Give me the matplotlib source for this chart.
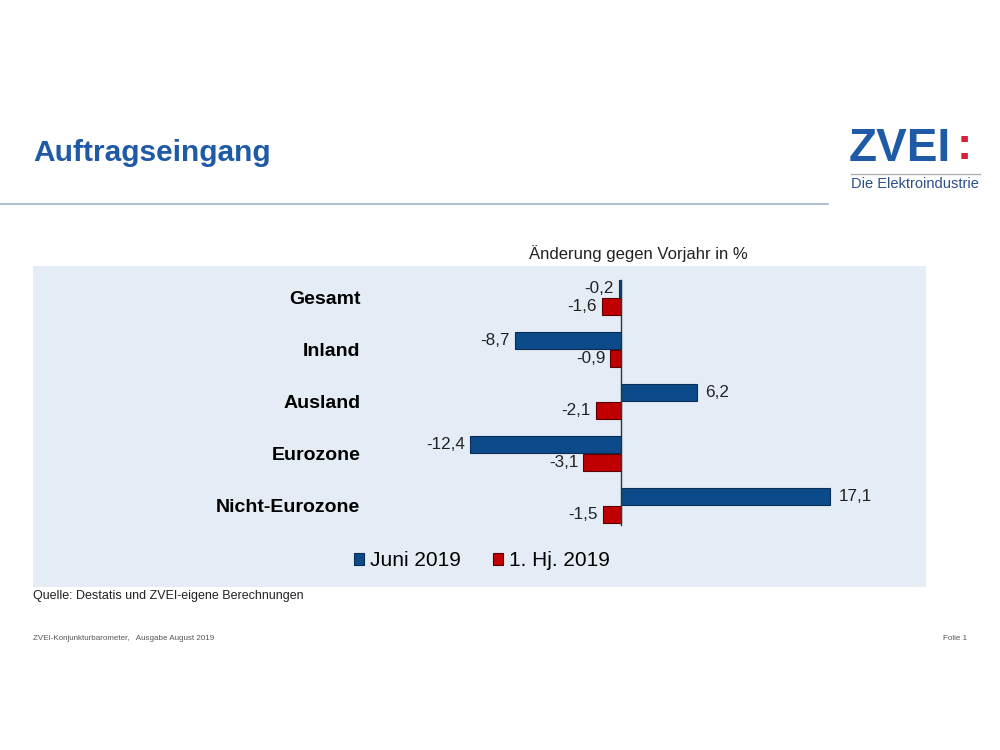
import numpy as np
import matplotlib.pyplot as plt
from matplotlib.patches import Rectangle

plt.rcParams['font.family'] = ['Liberation Sans', 'DejaVu Sans']

categories = ["Gesamt", "Inland", "Ausland", "Eurozone", "Nicht-Eurozone"]
juni = [-0.2, -8.7, 6.2, -12.4, 17.1]
halbjahr = [-1.6, -0.9, -2.1, -3.1, -1.5]
series_names = ["Juni 2019", "1. Hj. 2019"]

blue = "#0d4a8a"
red = "#c00000"
title_blue = "#1f5aa6"

W, H = 1000, 750
fig = plt.figure(figsize=(10, 7.5), dpi=100)

def fx(px):
    return px / W

def fy(py):
    return 1 - py / H

# panel background
fig.patches.append(Rectangle((fx(33), fy(587)), fx(926) - fx(33), fy(266) - fy(587),
                             transform=fig.transFigure, facecolor="#e4edf6",
                             edgecolor="none", zorder=-5))

# title + rule
fig.text(fx(33), fy(153), "Auftragseingang", fontsize=21.5, fontweight="bold",
         color=title_blue, va="center", ha="left")
fig.add_artist(plt.Line2D([0, fx(828)], [fy(204), fy(204)], transform=fig.transFigure,
                          color="#9fb3cb", lw=1.2))

# logo
fig.text(fx(849), fy(149), "ZVEI", fontsize=33, fontweight="bold", color=title_blue,
         va="center", ha="left")
fig.text(fx(957), fy(147), ":", fontsize=33, fontweight="bold", color="#d8203a",
         va="center", ha="left")
fig.add_artist(plt.Line2D([fx(851), fx(980)], [fy(174), fy(174)], transform=fig.transFigure,
                          color="#b0b0b0", lw=1))
fig.text(fx(851), fy(184), "Die Elektroindustrie", fontsize=10.5, color="#2a4f86",
         va="center", ha="left")

# chart axes
ax = fig.add_axes([fx(377), 1 - 536.7 / H, fx(902) - fx(377), 270.4 / H])
ax.set_facecolor("none")
ax.set_zorder(2)
y = np.arange(len(categories))
h = 0.34
off = 0.175
ax.barh(y - off, juni, height=h, color=blue, edgecolor="#0a2e55", lw=0.8, label=series_names[0])
ax.barh(y + off, halbjahr, height=h, color=red, edgecolor="#5a0000", lw=0.8, label=series_names[1])

def fmt(v):
    return ("%.1f" % v).replace(".", ",")

for yy, vals in ((y - off, juni), (y + off, halbjahr)):
    for yi, v in zip(yy, vals):
        if v < 0:
            ax.text(v - 0.4, yi, fmt(v), ha="right", va="center", fontsize=12.3, color="#222222")
        else:
            ax.text(v + 0.7, yi, fmt(v), ha="left", va="center", fontsize=12.3, color="#222222")

ax.set_xlim(-20, 23)
ax.set_ylim(4.6, -0.6)
ax.axvline(0, ymin=0.044, ymax=0.95, color="#333333", lw=1)
ax.set_yticks(y)
ax.set_yticklabels(categories, fontsize=14, fontweight="bold")
ax.tick_params(axis="y", length=0, pad=12)
ax.set_xticks([])
for s in ax.spines.values():
    s.set_visible(False)

fig.text(fx(638), fy(254), "Änderung gegen Vorjahr in %", fontsize=12, ha="center",
         va="center", color="#222222")

fig.legend(loc="center", bbox_to_anchor=(fx(482), fy(561)), ncol=2, frameon=False,
           fontsize=15, handlelength=0.5, handleheight=0.5, handletextpad=0.3,
           columnspacing=1.5)

fig.text(fx(33), fy(596), "Quelle: Destatis und ZVEI-eigene Berechnungen", fontsize=9,
         ha="left", va="center", color="#222222")
fig.text(fx(33), fy(639), "ZVEI-Konjunkturbarometer,   Ausgabe August 2019", fontsize=5.8,
         ha="left", va="center", color="#555555")
fig.text(fx(943), fy(639), "Folie 1", fontsize=5.8, ha="left", va="center", color="#555555")

fig.savefig("out.png", dpi=100, facecolor="white")
